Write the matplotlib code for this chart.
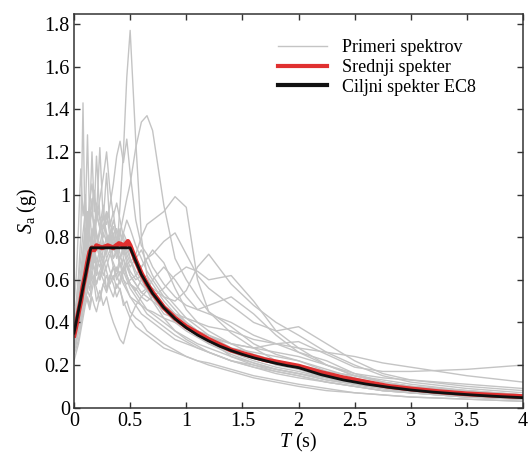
import numpy as np
import matplotlib
matplotlib.use('Agg')
import matplotlib.pyplot as plt

plt.rcParams['font.family'] = ['Liberation Serif', 'DejaVu Serif']
plt.rcParams['mathtext.fontset'] = 'custom'
plt.rcParams['mathtext.rm'] = 'Liberation Serif'
plt.rcParams['mathtext.it'] = 'Liberation Serif:italic'

# Periods of the record spectra
T_rec = [0, .02, .04, .06, .08, .10, .12, .14, .16, .18, .20, .23, .26, .29, .32, .35,
         .38, .41, .44, .47, .50, .55, .60, .65, .70, .80, .90, 1.0, 1.1, 1.2, 1.4,
         1.6, 1.8, 2.0, 2.25, 2.5, 2.75, 3.0, 3.5, 4.0]

# Record spectra (Sa in g)
records = [
    [0.30, 0.34, 0.42, 0.50, 0.58, 0.62, 0.70, 0.66, 0.72, 0.80, 0.76, 0.70, 0.82, 0.78, 0.74, 0.80,
     0.72, 0.95, 1.20, 1.55, 1.77, 1.25, 0.80, 0.62, 0.54, 0.46, 0.40, 0.36, 0.33, 0.30, 0.25,
     0.21, 0.18, 0.16, 0.13, 0.11, 0.09, 0.08, 0.06, 0.05],
    [0.28, 0.32, 0.40, 0.45, 0.52, 0.60, 0.55, 0.62, 0.70, 0.66, 0.62, 0.72, 0.68, 0.75, 0.80, 0.85,
     0.78, 0.82, 0.90, 0.98, 1.05, 1.22, 1.34, 1.37, 1.30, 0.95, 0.70, 0.60, 0.52, 0.45, 0.38,
     0.30, 0.25, 0.22, 0.18, 0.14, 0.11, 0.09, 0.07, 0.05],
    [0.35, 0.40, 0.48, 0.55, 0.62, 0.70, 0.78, 0.72, 0.80, 0.88, 0.82, 0.76, 0.85, 0.92, 0.88, 0.80,
     0.75, 0.82, 0.78, 0.72, 0.68, 0.72, 0.80, 0.86, 0.88, 0.92, 0.99, 0.94, 0.60, 0.45, 0.35,
     0.28, 0.22, 0.18, 0.14, 0.11, 0.09, 0.07, 0.05, 0.04],
    [0.40, 0.48, 0.62, 0.80, 1.43, 0.75, 0.92, 0.80, 0.70, 0.78, 0.65, 0.60, 0.68, 0.55, 0.62, 0.58,
     0.52, 0.56, 0.48, 0.50, 0.45, 0.42, 0.40, 0.36, 0.34, 0.30, 0.27, 0.24, 0.22, 0.20, 0.17,
     0.14, 0.12, 0.10, 0.08, 0.07, 0.06, 0.05, 0.04, 0.03],
    [0.32, 0.38, 0.45, 0.58, 0.70, 0.88, 1.28, 0.85, 0.98, 0.80, 0.90, 0.85, 0.95, 0.78, 0.82, 0.70,
     0.74, 0.66, 0.70, 0.62, 0.58, 0.55, 0.60, 0.62, 0.58, 0.50, 0.44, 0.40, 0.36, 0.33, 0.28,
     0.26, 0.24, 0.22, 0.17, 0.13, 0.10, 0.08, 0.06, 0.05],
    [0.30, 0.34, 0.40, 0.46, 0.55, 0.62, 0.58, 0.70, 0.78, 0.72, 0.90, 1.22, 0.88, 1.10, 0.85, 0.92,
     0.78, 0.84, 0.70, 0.66, 0.62, 0.58, 0.54, 0.56, 0.52, 0.44, 0.42, 0.38, 0.34, 0.30, 0.26,
     0.22, 0.19, 0.17, 0.14, 0.11, 0.09, 0.07, 0.06, 0.04],
    [0.36, 0.42, 0.50, 0.56, 0.64, 0.72, 0.68, 0.76, 0.84, 0.80, 0.74, 0.82, 0.90, 0.86, 0.95, 1.05,
     1.18, 1.25, 1.15, 1.26, 1.10, 0.88, 0.76, 0.72, 0.66, 0.58, 0.52, 0.48, 0.46, 0.44, 0.40,
     0.34, 0.30, 0.26, 0.22, 0.16, 0.12, 0.10, 0.08, 0.06],
    [0.25, 0.28, 0.32, 0.38, 0.45, 0.52, 0.60, 0.55, 0.62, 0.58, 0.50, 0.55, 0.48, 0.52, 0.45, 0.40,
     0.36, 0.32, 0.30, 0.36, 0.42, 0.48, 0.52, 0.55, 0.52, 0.48, 0.44, 0.40, 0.36, 0.32, 0.24,
     0.20, 0.17, 0.15, 0.12, 0.10, 0.08, 0.07, 0.05, 0.04],
    [0.33, 0.38, 0.44, 0.50, 0.56, 0.62, 0.66, 0.60, 0.68, 0.72, 0.65, 0.70, 0.62, 0.66, 0.72, 0.68,
     0.64, 0.70, 0.74, 0.68, 0.64, 0.60, 0.62, 0.58, 0.56, 0.52, 0.50, 0.55, 0.66, 0.72, 0.58,
     0.48, 0.40, 0.34, 0.26, 0.20, 0.15, 0.12, 0.09, 0.07],
    [0.30, 0.34, 0.38, 0.44, 0.50, 0.56, 0.62, 0.58, 0.64, 0.70, 0.66, 0.60, 0.66, 0.70, 0.64, 0.60,
     0.66, 0.62, 0.58, 0.55, 0.52, 0.50, 0.48, 0.46, 0.45, 0.42, 0.40, 0.38, 0.36, 0.34, 0.30,
     0.28, 0.30, 0.31, 0.25, 0.19, 0.17, 0.17, 0.18, 0.20],
    [0.28, 0.31, 0.36, 0.40, 0.46, 0.50, 0.55, 0.52, 0.58, 0.62, 0.58, 0.64, 0.60, 0.56, 0.62, 0.66,
     0.60, 0.64, 0.60, 0.58, 0.60, 0.62, 0.66, 0.70, 0.72, 0.78, 0.82, 0.72, 0.62, 0.56, 0.48,
     0.40, 0.36, 0.38, 0.30, 0.22, 0.16, 0.13, 0.10, 0.08],
    [0.38, 0.44, 0.52, 0.60, 0.68, 0.80, 0.74, 0.86, 0.92, 0.84, 0.96, 0.88, 0.80, 0.90, 0.84, 0.76,
     0.84, 0.78, 0.72, 0.78, 0.70, 0.62, 0.58, 0.55, 0.60, 0.66, 0.60, 0.52, 0.46, 0.48, 0.52,
     0.44, 0.34, 0.26, 0.20, 0.15, 0.12, 0.10, 0.07, 0.05],
    [0.22, 0.26, 0.30, 0.36, 0.42, 0.48, 0.52, 0.48, 0.55, 0.60, 0.56, 0.50, 0.58, 0.62, 0.56, 0.52,
     0.58, 0.55, 0.50, 0.46, 0.42, 0.38, 0.36, 0.34, 0.32, 0.28, 0.26, 0.24, 0.22, 0.21, 0.18,
     0.15, 0.13, 0.11, 0.09, 0.07, 0.06, 0.05, 0.04, 0.03],
    [0.42, 0.50, 0.60, 0.70, 0.82, 0.92, 0.86, 0.98, 1.05, 0.95, 0.88, 0.98, 1.08, 1.20, 1.02, 0.90,
     0.96, 0.88, 0.80, 0.74, 0.70, 0.64, 0.60, 0.55, 0.50, 0.42, 0.36, 0.32, 0.29, 0.26, 0.22,
     0.19, 0.17, 0.15, 0.12, 0.10, 0.08, 0.07, 0.05, 0.04],
    [0.48, 0.62, 0.85, 1.12, 0.90, 1.00, 0.82, 0.94, 0.76, 0.88, 0.80, 0.72, 0.78, 0.70, 0.74, 0.66,
     0.62, 0.68, 0.60, 0.56, 0.52, 0.48, 0.44, 0.42, 0.40, 0.36, 0.32, 0.30, 0.28, 0.26, 0.22,
     0.19, 0.16, 0.14, 0.12, 0.10, 0.08, 0.07, 0.05, 0.04],
    [0.34, 0.40, 0.46, 0.54, 0.60, 0.66, 0.74, 0.80, 0.74, 0.68, 0.76, 0.84, 0.78, 0.72, 0.80, 0.88,
     0.82, 0.76, 0.82, 0.88, 0.84, 0.76, 0.70, 0.64, 0.60, 0.52, 0.46, 0.40, 0.36, 0.33, 0.30,
     0.28, 0.26, 0.24, 0.20, 0.16, 0.14, 0.13, 0.11, 0.09],
    [0.30, 0.34, 0.40, 0.46, 0.52, 0.58, 0.64, 0.70, 0.66, 0.74, 0.70, 0.66, 0.74, 0.80, 0.76, 0.70,
     0.74, 0.68, 0.64, 0.68, 0.62, 0.58, 0.54, 0.52, 0.50, 0.46, 0.44, 0.42, 0.40, 0.38, 0.36,
     0.32, 0.30, 0.28, 0.26, 0.24, 0.21, 0.19, 0.15, 0.12],
    [0.26, 0.30, 0.36, 0.42, 0.48, 0.54, 0.50, 0.46, 0.52, 0.48, 0.45, 0.52, 0.58, 0.54, 0.60, 0.66,
     0.62, 0.58, 0.64, 0.60, 0.56, 0.52, 0.48, 0.44, 0.42, 0.38, 0.34, 0.31, 0.28, 0.26, 0.22,
     0.20, 0.18, 0.16, 0.14, 0.12, 0.10, 0.09, 0.07, 0.06],
    [0.36, 0.42, 0.50, 0.58, 0.66, 0.74, 0.82, 0.90, 0.96, 1.02, 0.92, 0.84, 0.90, 0.82, 0.76, 0.82,
     0.74, 0.70, 0.76, 0.70, 0.66, 0.70, 0.74, 0.68, 0.62, 0.54, 0.48, 0.42, 0.38, 0.34, 0.28,
     0.24, 0.20, 0.18, 0.15, 0.12, 0.10, 0.08, 0.06, 0.05],
    [0.32, 0.36, 0.42, 0.48, 0.54, 0.60, 0.56, 0.64, 0.70, 0.64, 0.58, 0.64, 0.70, 0.64, 0.58, 0.62,
     0.56, 0.60, 0.66, 0.62, 0.58, 0.56, 0.52, 0.50, 0.52, 0.56, 0.62, 0.66, 0.64, 0.60, 0.62,
     0.50, 0.36, 0.28, 0.20, 0.15, 0.12, 0.10, 0.08, 0.06],
    [0.40, 0.46, 0.55, 0.64, 0.74, 0.84, 0.78, 0.90, 1.20, 0.92, 1.18, 0.90, 0.84, 0.92, 0.80, 0.74,
     0.80, 0.72, 0.66, 0.62, 0.58, 0.54, 0.50, 0.46, 0.44, 0.40, 0.36, 0.33, 0.30, 0.28, 0.24,
     0.21, 0.18, 0.16, 0.13, 0.11, 0.09, 0.08, 0.06, 0.05],
    [0.28, 0.32, 0.38, 0.44, 0.50, 0.56, 0.62, 0.58, 0.64, 0.60, 0.68, 0.74, 0.70, 0.76, 0.82, 0.76,
     0.70, 0.76, 0.82, 0.78, 0.74, 0.68, 0.66, 0.70, 0.74, 0.68, 0.56, 0.46, 0.40, 0.36, 0.30,
     0.25, 0.22, 0.20, 0.17, 0.15, 0.13, 0.11, 0.08, 0.06],
]

# Mean spectrum
T_mean = [0, .02, .04, .06, .08, .10, .12, .14, .16, .18, .20, .25, .30, .35, .40, .45, .48, .50,
          .55, .60, .65, .70, .80, .90, 1.0, 1.1, 1.2, 1.3, 1.4, 1.5, 1.6, 1.7, 1.8, 1.9, 2.0,
          2.2, 2.4, 2.6, 2.8, 3.0, 3.25, 3.5, 3.75, 4.0]
sa_mean = [0.34, 0.39, 0.45, 0.50, 0.57, 0.62, 0.68, 0.73, 0.75, 0.74, 0.76, 0.75, 0.76, 0.75,
           0.77, 0.76, 0.78, 0.76, 0.69, 0.63, 0.58, 0.54, 0.47, 0.42, 0.38, 0.35, 0.32, 0.295,
           0.27, 0.255, 0.24, 0.225, 0.215, 0.205, 0.195, 0.165, 0.14, 0.12, 0.10, 0.088, 0.075,
           0.065, 0.058, 0.052]

# Target EC8 spectrum
T_ec8 = [0, 0.15, 0.5, 0.6, 0.7, 0.8, 0.9, 1.0, 1.1, 1.2, 1.3, 1.4, 1.5, 1.6, 1.7, 1.8, 1.9,
         2.0, 2.2, 2.4, 2.6, 2.8, 3.0, 3.2, 3.4, 3.6, 3.8, 4.0]
sa_ec8 = [0.35, 0.75, 0.75, 0.625, 0.536, 0.469, 0.417, 0.375, 0.341, 0.313, 0.288, 0.268,
          0.25, 0.234, 0.221, 0.208, 0.197, 0.188, 0.155, 0.130, 0.111, 0.096, 0.083, 0.073,
          0.065, 0.058, 0.052, 0.047]

x_ticks = [0, 0.5, 1, 1.5, 2, 2.5, 3, 3.5, 4]
x_labels = ['0', '0.5', '1', '1.5', '2', '2.5', '3', '3.5', '4']
y_ticks = [0, 0.2, 0.4, 0.6, 0.8, 1.0, 1.2, 1.4, 1.6, 1.8]
y_labels = ['0', '0.2', '0.4', '0.6', '0.8', '1', '1.2', '1.4', '1.6', '1.8']

fig = plt.figure(figsize=(5.28, 4.57), dpi=100)
ax = fig.add_axes([0.1402, 0.1079, 0.8504, 0.8615])

for i, r in enumerate(records):
    ax.plot(T_rec, r, color='#c4c4c4', lw=1.0,
            label='Primeri spektrov' if i == 0 else None, zorder=1)
ax.plot(T_mean, sa_mean, color='#e03030', lw=3.5, label='Srednji spekter', zorder=2)
ax.plot(T_ec8, sa_ec8, color='#111111', lw=2.0, label='Ciljni spekter EC8', zorder=3)

ax.set_xlim(0, 4)
ax.set_ylim(0, 1.847)
ax.set_xticks(x_ticks)
ax.set_xticklabels(x_labels)
ax.set_yticks(y_ticks)
ax.set_yticklabels(y_labels)
ax.tick_params(direction='in', top=True, right=True, length=4, width=1,
               labelsize=14.5, color='#333333', pad=3)
for s in ax.spines.values():
    s.set_color('#333333')
    s.set_linewidth(1.1)

ax.set_xlabel(r'$T$ (s)', fontsize=14.5, labelpad=0)
ax.set_ylabel(r'$S_{\mathrm{a}}$ (g)', fontsize=14.5, labelpad=4)

leg = ax.legend(loc='upper left', bbox_to_anchor=(0.439, 0.954), frameon=False,
                fontsize=13, handlelength=2.7, handletextpad=0.8, labelspacing=0.15,
                borderaxespad=0)
leg.get_lines()[1].set_linewidth(3)
leg.get_lines()[2].set_linewidth(3)

fig.savefig('out.png', dpi=100)
